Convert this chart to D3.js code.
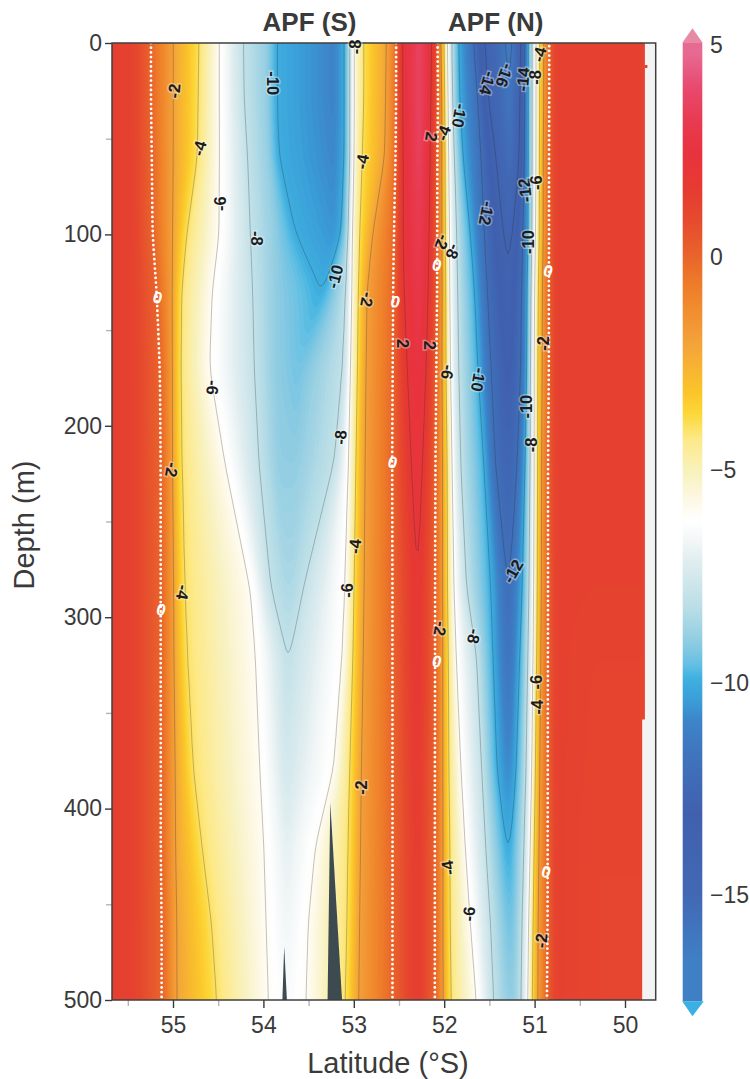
<!DOCTYPE html>
<html>
<head>
<meta charset="utf-8">
<script src="https://d3js.org/d3.v7.min.js"></script>
<style>
html, body { margin: 0; padding: 0; background: #fff; }
text { font-family: "Liberation Sans", Arial, sans-serif; }
</style>
</head>
<body>
<div id="chartArea"></div>
<script>
const depthRows = [0, 30, 60, 100, 130, 170, 220, 285, 320, 380, 420, 460, 500];

// latitude of each isoline at each depth row, south to north
const zeroS  = [55.24,55.24,55.23,55.22,55.17,55.13,55.12,55.12,55.12,55.12,55.12,55.11,55.11];
const m2S    = [55.00,55.00,55.00,55.00,55.00,55.00,55.00,54.99,54.99,54.98,54.98,54.97,54.97];
const m4S    = [54.71,54.72,54.73,54.86,54.92,54.93,54.92,54.89,54.86,54.79,54.69,54.58,54.52];
const m6S    = [54.49,54.49,54.49,54.49,54.57,54.60,54.42,54.13,54.08,54.03,53.99,53.97,53.95];
const m8S    = [54.23,54.22,54.18,54.15,54.12,54.10,54.05,53.93,53.75,53.76,53.76,53.76,53.76];
const m9S    = [53.95,53.95,53.93,53.87,53.87,53.87,53.83,53.76,53.745,53.755,53.755,53.755,53.755];
const m10S   = [53.87,53.87,53.85,53.66,53.36,53.63,53.66,53.69,53.74,53.75,53.75,53.75,53.75];
const coreS  = [53.21,53.21,53.21,53.21,53.35,53.62,53.65,53.68,53.73,53.74,53.74,53.74,53.74];
const m10Sn  = [53.09,53.09,53.09,53.13,53.33,53.61,53.64,53.67,53.72,53.73,53.73,53.73,53.73];
const m8Sn   = [53.04,53.04,53.04,53.05,53.07,53.10,53.20,53.56,53.71,53.72,53.72,53.72,53.72];
const m6Sn   = [53.01,53.01,53.01,53.03,53.03,53.04,53.05,53.08,53.11,53.21,53.42,53.50,53.52];
const m4Sn   = [52.90,52.90,52.92,52.94,52.95,52.96,52.98,53.00,53.01,53.04,53.05,53.06,53.08];
const m2Sn   = [52.63,52.64,52.65,52.80,52.87,52.88,52.89,52.90,52.91,52.93,52.94,52.95,52.96];
const zeroM  = [52.52,52.52,52.53,52.54,52.55,52.56,52.57,52.57,52.57,52.57,52.57,52.57,52.57];
const p2S    = [52.48,52.48,52.47,52.47,52.46,52.42,52.37,52.30,52.31,52.31,52.31,52.31,52.31];
const warm   = [52.27,52.27,52.27,52.27,52.27,52.29,52.30,52.295,52.30,52.30,52.30,52.30,52.30];
const p2N    = [52.13,52.14,52.15,52.16,52.17,52.19,52.23,52.29,52.29,52.29,52.29,52.29,52.29];
const zeroN  = [52.06,52.06,52.07,52.07,52.07,52.08,52.09,52.09,52.09,52.09,52.09,52.09,52.09];
const m2N    = [52.04,52.02,52.02,52.02,52.02,52.02,52.01,52.01,52.01,52.01,52.01,52.01,52.01];
const m4N    = [52.00,52.00,51.99,51.99,51.98,51.98,51.97,51.97,51.96,51.96,51.95,51.95,51.94];
const m6N    = [51.97,51.96,51.96,51.95,51.95,51.94,51.92,51.90,51.88,51.82,51.77,51.71,51.64];
const m8N    = [51.92,51.91,51.89,51.87,51.86,51.85,51.83,51.76,51.64,51.58,51.54,51.49,51.46];
const m10N   = [51.85,51.84,51.80,51.71,51.66,51.62,51.55,51.48,51.46,51.42,51.32,51.30,51.29];
const m12N   = [51.67,51.62,51.59,51.56,51.53,51.49,51.45,51.31,51.31,51.31,51.31,51.29,51.28];
const m14N   = [51.56,51.52,51.43,51.35,51.30,51.30,51.30,51.30,51.30,51.30,51.30,51.28,51.27];
const coreN  = [51.27,51.27,51.27,51.28,51.29,51.29,51.29,51.29,51.29,51.29,51.29,51.27,51.26];
const m14Nn  = [51.14,51.15,51.16,51.24,51.28,51.28,51.28,51.28,51.28,51.28,51.28,51.26,51.25];
const m12Nn  = [51.11,51.11,51.11,51.12,51.13,51.14,51.18,51.27,51.27,51.27,51.27,51.25,51.24];
const m10Nn  = [51.07,51.07,51.07,51.07,51.08,51.08,51.10,51.13,51.16,51.20,51.26,51.24,51.23];
const m8Nn   = [51.03,51.03,51.03,51.03,51.04,51.05,51.05,51.06,51.07,51.09,51.11,51.13,51.14];
const m6Nn   = [50.98,50.98,50.98,50.99,51.00,51.00,51.00,51.00,51.01,51.02,51.04,51.06,51.07];
const m4Nn   = [50.95,50.95,50.95,50.95,50.96,50.97,50.97,50.98,50.98,51.00,51.01,51.02,51.03];
const m2Nn   = [50.90,50.90,50.91,50.91,50.92,50.92,50.93,50.93,50.94,50.95,50.96,50.97,50.97];
const zeroNn = [50.85,50.85,50.85,50.85,50.85,50.85,50.86,50.86,50.86,50.86,50.86,50.86,50.87];

// values that change with depth (closed contours run out where the value passes the level)
const coreSVal  = [-11,-11,-10.9,-10.6,-10,-9.4,-9,-8.5,-8,-7.5,-7,-6.7,-6.4];
const band10S   = [-10,-10,-10,-10,-10,-9.4,-9,-8.5,-8,-7.5,-7,-6.7,-6.4];
const band9S    = [-9,-9,-9,-9,-9,-9,-9,-8.5,-8,-7.5,-7,-6.7,-6.4];
const band8S    = [-8,-8,-8,-8,-8,-8,-8,-8,-8,-7.5,-7,-6.7,-6.4];
const warmVal   = [3.8,3.8,3.7,3.3,3,2.7,2.4,2.15,1.9,1.7,1.6,1.6,1.6];
const band2     = [2,2,2,2,2,2,2,2,1.9,1.7,1.6,1.6,1.6];
const coreNVal  = [-16.5,-16,-15.6,-14.3,-13.8,-13.3,-12.7,-12,-11.7,-10.8,-10,-9.4,-9];
const band14N   = [-14,-14,-14,-14,-13.8,-13.3,-12.7,-12,-11.7,-10.8,-10,-9.4,-9];
const band12N   = [-12,-12,-12,-12,-12,-12,-12,-12,-11.7,-10.8,-10,-9.4,-9];
const band10N   = [-10,-10,-10,-10,-10,-10,-10,-10,-10,-10,-10,-9.4,-9];
const farEast   = [1.4,1.4,1.4,1.4,1.4,1.4,1.35,1.3,1.2,1.15,1.1,1.1,1.1];

const knotLats = [55.70,55.45,zeroS,m2S,m4S,m6S,m8S,m9S,m10S,coreS,m10Sn,m8Sn,m6Sn,m4Sn,m2Sn,zeroM,p2S,warm,p2N,zeroN,
  m2N,m4N,m6N,m8N,m10N,m12N,m14N,coreN,m14Nn,m12Nn,m10Nn,m8Nn,m6Nn,m4Nn,m2Nn,zeroNn,50.76,50.35,49.60];
const knotVals = [1.45,1.3,0,-2,-4,-6,band8S,band9S,band10S,coreSVal,band10S,band8S,-6,-4,-2,0,band2,warmVal,band2,0,
  -2,-4,-6,-8,band10N,band12N,band14N,coreNVal,band14N,band12N,band10N,-8,-6,-4,-2,0,1.35,farEast,farEast];

// contour levels drawn as grey lines
const lineLevels = [2,-2,-4,-6,-8,-10,-12,-14,-16];

// seabed peaks at the bottom of the section
const peak1Lats = [53.29,53.26,53.13];
const peak1Deps = [500,397,500];
const peak2Lats = [53.79,53.77,53.74];
const peak2Deps = [500,472,500];

// contour labels
const labelTexts  = ["-2","-4","-6","-8","-10","-8","-4","-10","-2","-6","-2","-4","-8","-4","-6","-2",
  "2","-4","-10","-14","-16","-14","-8","-4","-12","-12","-6","-10","-2","-8","2","2","-2","-6","-10","-10","-8","-12","-2","-8","-6","-4","-4","-6","-2"];
const labelLats   = [54.99,54.71,54.48,54.07,53.89,52.99,52.91,53.21,52.85,54.56,55.01,54.89,53.15,52.99,53.08,52.92,
  52.14,52.01,51.83,51.52,51.33,51.13,51.00,50.95,51.53,51.11,50.98,51.07,52.02,51.90,52.46,52.16,50.91,51.96,51.62,51.09,51.04,51.24,52.04,51.67,50.98,50.97,51.96,51.73,50.93];
const labelDepths = [25,55,84,102,21,2,62,122,134,180,223,287,206,263,286,389,
  49,47,38,21,17,19,18,6,89,77,73,104,104,109,157,158,157,172,176,190,210,276,306,310,334,347,431,455,469];
const labelAngles = [-85,-75,-90,90,90,-90,-80,-75,100,95,100,100,-85,-85,-90,-90,
  100,-70,100,105,110,-85,-90,-75,100,-95,-90,-90,110,110,90,90,-90,100,100,-90,-90,-60,100,100,-90,-90,-100,-85,-85];

const zeroLats   = [55.17,52.54,55.13,52.57,52.08,50.85,52.08,50.87];
const zeroDepths = [133,135,296,219,116,119,323,433];

// colour bar
const barStops  = [5.6,4.8,4,3.2,2.45,1.65,0.87,0,-0.7,-1,-2,-3.2,-3.7,-4.3,-5.1,-5.7,-6.2,-6.7,-7.1,-8.3,-9.1,-9.6,-9.9,-10.4,-10.9,-11.5,-12.5,-13.1,-15,-16.5,-17.6];
const barColors = ["#e78ba5","#e76a93","#e84a70","#e83a50","#e8333f","#e63a32","#e64a2e","#e9652b","#ee7e2a","#f0862c","#f3a23a","#fbc52a","#fcd83a","#fde98a","#f8f2c0","#fdf8e4","#ffffff","#f2f6f7","#e2eef0","#b8dde6","#8ccbe2","#62bfe4","#3fb0e0","#3a9fd8","#3d85c8","#3f78c0","#4068b4","#4060ae","#4268b4","#3f7fc4","#3ab0e4"];
const barTicks  = [5,0,-5,-10,-15];

const latTicks   = [55,54,53,52,51,50];
const latMinor   = [55.5,54.5,53.5,52.5,51.5,50.5];
const depthTicks = [0,100,200,300,400,500];
const depthMinor = [50,150,250,350,450];

// east end of the sampled section
const stripDepths = [0,353.5,353.5,500];
const stripLats   = [49.78,49.78,49.81,49.81];

const width = 750, height = 1079;
const margin = {top: 43, right: 94.3, bottom: 79, left: 112};
const textColor = "#3a3a3a";

const x = d3.scaleLinear().domain([55,50]).range([173,625]);
const y = d3.scaleLinear().domain([0,500]).range([margin.top,height - margin.bottom]);
const color = d3.scaleLinear().domain(barStops).range(barColors).clamp(true);

const svg = d3.select('#chartArea').append('svg')
    .attr("width", width)
    .attr("height", height)
    .style("display", "block");

svg.append("clipPath").attr("id", "plotClip").append("rect")
    .attr("x", margin.left).attr("y", margin.top)
    .attr("width", width - margin.left - margin.right)
    .attr("height", height - margin.top - margin.bottom);

function pick(a, r) { return Array.isArray(a) ? a[r] : a; }

// grid with a margin round the plot so contour rings close outside the clip
const step = 2;
const gx0 = margin.left - 12, gy0 = margin.top - 12;
const nx = Math.ceil((width - margin.right + 12 - gx0) / step);
const ny = Math.ceil((height - margin.bottom + 12 - gy0) / step);
const field = new Float64Array(nx * ny);

for (let j = 0; j < ny; j++) {
    const d = Math.max(0, Math.min(500, y.invert(gy0 + j * step)));
    const r = Math.min(depthRows.length - 2, d3.bisectRight(depthRows, d) - 1);
    const f = (d - depthRows[r]) / (depthRows[r + 1] - depthRows[r]);
    const lats = knotLats.map(k => pick(k, r) + (pick(k, r + 1) - pick(k, r)) * f);
    const vals = knotVals.map(k => pick(k, r) + (pick(k, r + 1) - pick(k, r)) * f);
    let p = 0;
    for (let i = 0; i < nx; i++) {
        const lat = x.invert(gx0 + i * step);
        while (p < lats.length - 2 && lat <= lats[p + 1]) p++;
        const span = lats[p + 1] - lats[p];
        const t = span === 0 ? 0 : Math.max(0, Math.min(1, (lat - lats[p]) / span));
        field[i + j * nx] = vals[p] + (vals[p + 1] - vals[p]) * t;
    }
}
// takes the corners off where the isolines bend at a depth row
d3.blur2({data: field, width: nx, height: ny}, 0.6, 5);

const contours = d3.contours().size([nx, ny]);
const path = d3.geoPath(d3.geoTransform({
    point: function(px, py) { this.stream.point(gx0 + (px - 0.5) * step, gy0 + (py - 0.5) * step); }
}));

const plot = svg.append("g").attr("clip-path", "url(#plotClip)");
plot.append("rect")
    .attr("x", margin.left).attr("y", margin.top)
    .attr("width", width - margin.left - margin.right)
    .attr("height", height - margin.top - margin.bottom)
    .attr("fill", color(-18));

// colour field, painted low to high
plot.append("g").selectAll("path")
    .data(d3.range(-17.4, 5, 0.1))
    .enter().append("path")
    .attr("d", t => path(contours.contour(field, t)))
    .attr("fill", t => color(t + 0.05));

plot.append("g").selectAll("path")
    .data(lineLevels)
    .enter().append("path")
    .attr("d", t => path(contours.contour(field, t)))
    .attr("fill", "none")
    .attr("stroke", "#2c2c2c")
    .attr("stroke-opacity", 0.36)
    .attr("stroke-width", 0.8);

plot.append("path")
    .attr("d", path(contours.contour(field, 0)))
    .attr("fill", "none")
    .attr("stroke", "#fff")
    .attr("stroke-width", 2.8)
    .attr("stroke-linecap", "round")
    .attr("stroke-dasharray", "0 4.7");

// seabed
const peakLine = d3.line().x(d => x(d[0])).y(d => y(d[1]));
plot.append("path").attr("d", peakLine(d3.zip(peak1Lats, peak1Deps)) + "Z").attr("fill", "#3d4a50");
plot.append("path").attr("d", peakLine(d3.zip(peak2Lats, peak2Deps)) + "Z").attr("fill", "#3d4a50");

// strip east of the last station
const stripArea = d3.area().x0(d => x(d[0])).x1(x.range()[1] + 40).y(d => y(d[1]));
plot.append("path").attr("d", stripArea(d3.zip(stripLats, stripDepths))).attr("fill", "#f3f3f3");
plot.append("rect").attr("x", x(49.78)).attr("y", y(11.5)).attr("width", 2.5).attr("height", 3).attr("fill", "#e2402f");

// axes
function styleAxis(g, col) {
    g.selectAll(".domain").remove();
    g.selectAll("line").attr("stroke", col).attr("stroke-width", 1.4);
    g.selectAll("text").attr("fill", textColor).style("font-size", "23px")
        .style("font-family", '"Liberation Sans", Arial, sans-serif');
}
svg.append("g").attr("transform", "translate(" + margin.left + ",0)")
    .call(d3.axisLeft(y).tickValues(depthMinor).tickSize(6).tickFormat(""))
    .call(styleAxis, "#b5b5b5");
svg.append("g").attr("transform", "translate(" + margin.left + ",0)")
    .call(d3.axisLeft(y).tickValues(depthTicks).tickSize(7).tickPadding(3).tickFormat(d3.format("d")))
    .call(styleAxis, "#3a3a3a");
svg.append("g").attr("transform", "translate(0," + (height - margin.bottom) + ")")
    .call(d3.axisBottom(x).tickValues(latMinor).tickSize(6).tickFormat(""))
    .call(styleAxis, "#b5b5b5");
svg.append("g").attr("transform", "translate(0," + (height - margin.bottom) + ")")
    .call(d3.axisBottom(x).tickValues(latTicks).tickSize(8).tickPadding(9).tickFormat(d3.format("d")))
    .call(styleAxis, "#3a3a3a");

svg.append("rect")
    .attr("x", margin.left).attr("y", margin.top)
    .attr("width", width - margin.left - margin.right)
    .attr("height", height - margin.top - margin.bottom)
    .attr("fill", "none")
    .attr("stroke", "#3f3f3f")
    .attr("stroke-width", 1.5);

// contour labels
svg.append("g").selectAll("text")
    .data(labelTexts)
    .enter().append("text")
    .attr("transform", (d, i) => "translate(" + x(labelLats[i]) + "," + y(labelDepths[i]) + ") rotate(" + labelAngles[i] + ")")
    .attr("text-anchor", "middle")
    .attr("dy", "0.36em")
    .attr("fill", "#1c1c1c")
    .attr("stroke", "rgba(255,255,255,0.35)")
    .attr("stroke-width", 3)
    .style("paint-order", "stroke")
    .style("font-size", "16.5px")
    .style("font-weight", "bold")
    .text(d => d);

svg.append("g").selectAll("text")
    .data(zeroLats)
    .enter().append("text")
    .attr("transform", (d, i) => "translate(" + x(d) + "," + y(zeroDepths[i]) + ") rotate(15)")
    .attr("text-anchor", "middle")
    .attr("dy", "0.36em")
    .attr("fill", "#fff")
    .style("font-size", "16.5px")
    .style("font-weight", "bold")
    .text("0");

// titles
svg.append("text").attr("x", x(53.49)).attr("y", 31).attr("text-anchor", "middle")
    .attr("fill", textColor).style("font-size", "26px").style("font-weight", "bold").text("APF (S)");
svg.append("text").attr("x", x(51.43)).attr("y", 31).attr("text-anchor", "middle")
    .attr("fill", textColor).style("font-size", "26px").style("font-weight", "bold").text("APF (N)");
svg.append("text").attr("x", 388).attr("y", 1073).attr("text-anchor", "middle")
    .attr("fill", textColor).style("font-size", "29px").text("Latitude (°S)");
svg.append("text").attr("transform", "translate(34,525) rotate(-90)").attr("text-anchor", "middle")
    .attr("fill", textColor).style("font-size", "29px").text("Depth (m)");

// colour bar
const barY = d3.scaleLinear().domain([0,-15]).range([257,895]);
const barX0 = 682.7, barX1 = 702.3;
const barTop = 5.05, barBottom = -17.5;
const grad = svg.append("defs").append("linearGradient")
    .attr("id", "barGrad").attr("x1", 0).attr("x2", 0).attr("y1", 0).attr("y2", 1);
grad.selectAll("stop").data(barStops.filter(v => v <= barTop && v >= barBottom)).enter().append("stop")
    .attr("offset", v => (barY(v) - barY(barTop)) / (barY(barBottom) - barY(barTop)))
    .attr("stop-color", v => color(v));
svg.append("rect")
    .attr("x", barX0).attr("y", barY(barTop))
    .attr("width", barX1 - barX0).attr("height", barY(barBottom) - barY(barTop))
    .attr("fill", "url(#barGrad)");
const triangle = d3.line();
svg.append("path")
    .attr("d", triangle([[barX0, barY(barTop)], [(barX0 + barX1) / 2, barY(barTop) - 14], [barX1, barY(barTop)]]) + "Z")
    .attr("fill", "#e78ba5");
svg.append("path")
    .attr("d", triangle([[barX0 - 0.5, barY(barBottom)], [(barX0 + barX1) / 2, barY(barBottom) + 15], [barX1 + 1.5, barY(barBottom)]]) + "Z")
    .attr("fill", "#3ab0e4");
svg.append("g").selectAll("text")
    .data(barTicks)
    .enter().append("text")
    .attr("x", 710)
    .attr("y", v => barY(v))
    .attr("dy", "0.36em")
    .attr("fill", textColor)
    .style("font-size", "23px")
    .text(v => v < 0 ? "\u2212" + Math.abs(v) : v);
</script>
</body>
</html>
